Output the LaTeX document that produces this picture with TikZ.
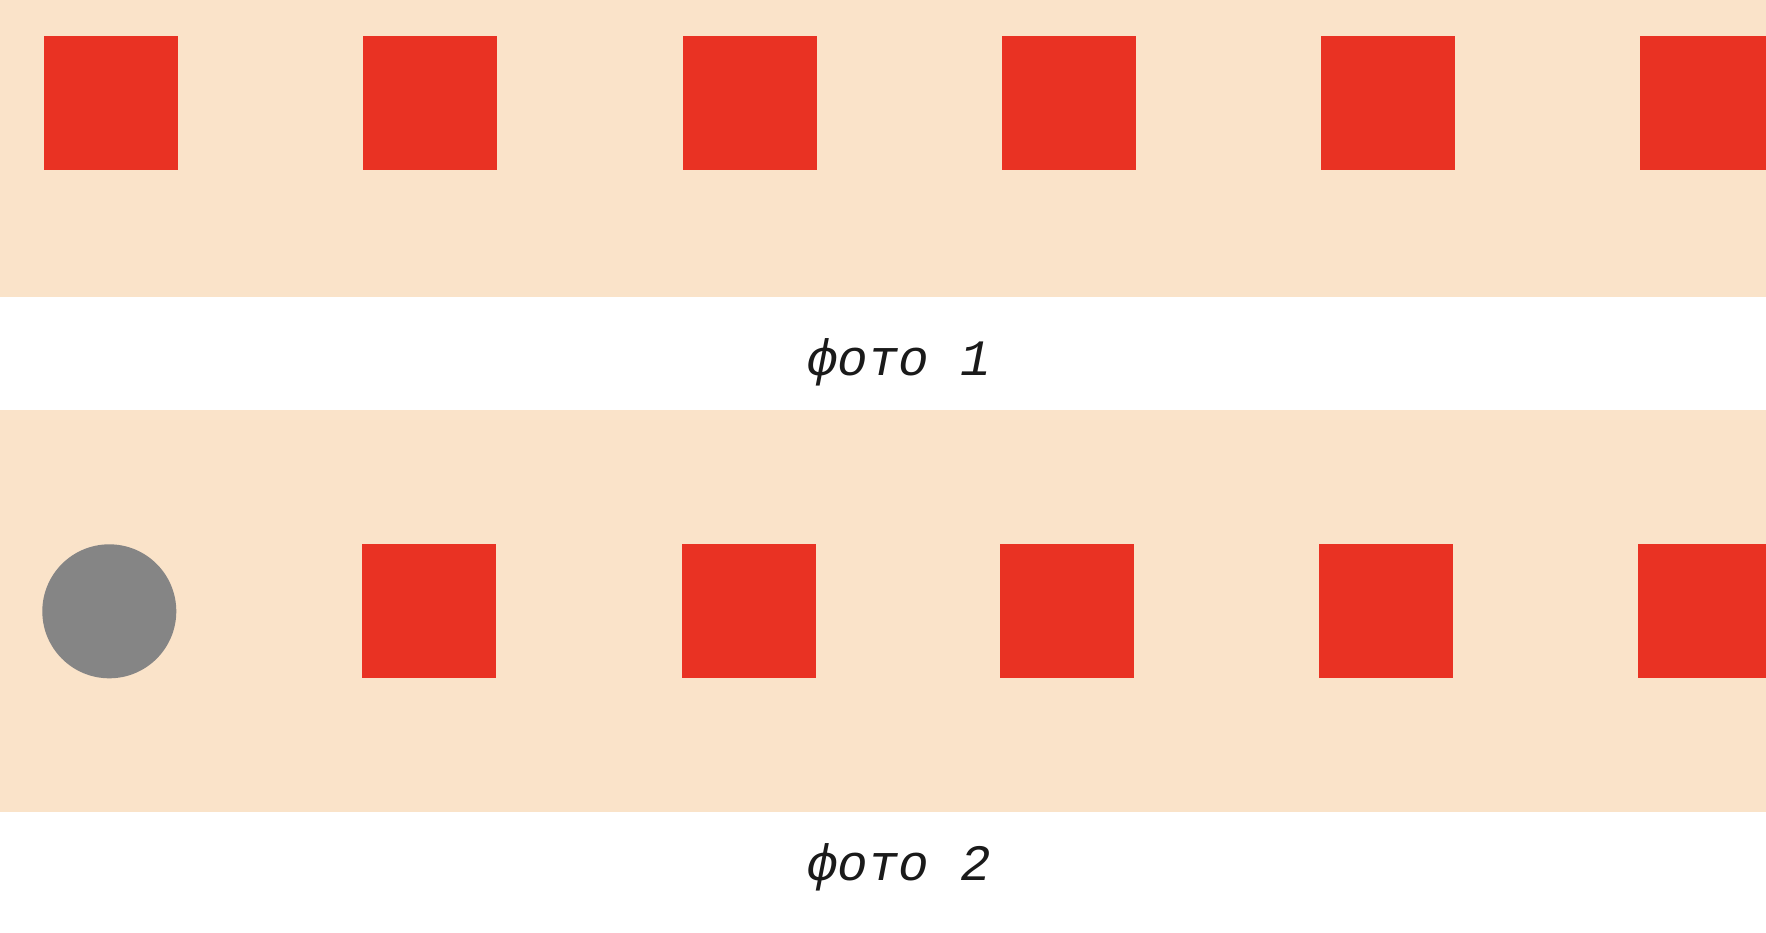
\documentclass[tikz,border=0pt]{standalone}
\usepackage{fontspec}
\setmonofont{Liberation Mono}
\definecolor{band}{HTML}{FAE3C9}
\definecolor{redsq}{HTML}{E93223}
\definecolor{graycirc}{HTML}{858585}
\definecolor{captxt}{HTML}{1A1A1A}
\tikzset{
  sq/.style={rectangle, fill=redsq, draw=none, minimum size=134pt, inner sep=0pt, anchor=north west},
  circ/.style={circle, fill=graycirc, draw=none, minimum size=134pt, inner sep=0pt},
  caption/.style={font=\fontsize{51}{60}\selectfont\ttfamily\itshape, text=captxt, inner sep=0pt}
}
\begin{document}
\begin{tikzpicture}[x=1pt,y=-1pt]
\useasboundingbox (0,0) rectangle (1766,932);
\fill[white] (0,0) rectangle (1766,932);
\fill[band] (0,0) rectangle (1766,297);
\fill[band] (0,410) rectangle (1766,812);
\begin{scope}
\clip (0,0) rectangle (1766,932);
% row 1
\node[sq] (a1) at (44,36) {};
\node[sq] (a2) at (362.7,36) {};
\node[sq] (a3) at (682.5,36) {};
\node[sq] (a4) at (1001.3,36) {};
\node[sq] (a5) at (1321.1,36) {};
\node[sq] (a6) at (1640,36) {};
% row 2
\node[circ] (b1) at (109.3,611.3) {};
\node[sq] (b2) at (361.5,544) {};
\node[sq] (b3) at (681.4,544) {};
\node[sq] (b4) at (1000.2,544) {};
\node[sq] (b5) at (1318.9,544) {};
\node[sq] (b6) at (1637.6,544) {};
\end{scope}
\node[caption] (c1) at (899,362) {фото 1};
\node[caption] (c2) at (899,867) {фото 2};
\end{tikzpicture}
\end{document}
